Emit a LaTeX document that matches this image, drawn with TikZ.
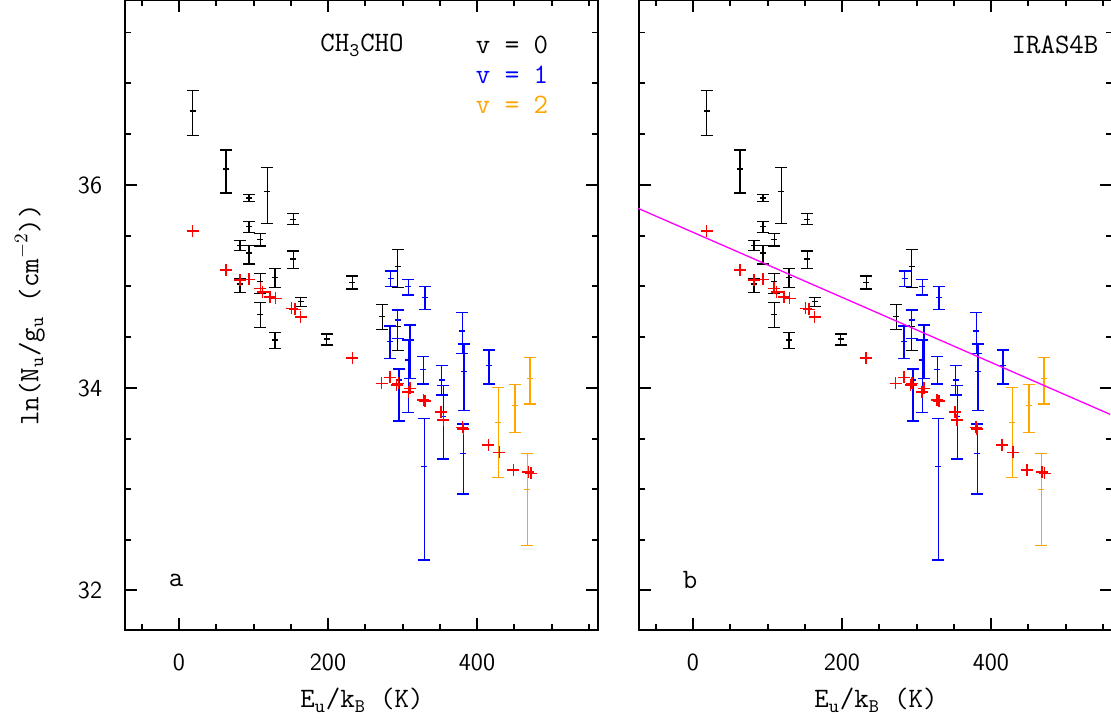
\documentclass[tikz,border=0pt]{standalone}
\usepackage{amsmath}
\usepackage{tikz}

\definecolor{vone}{RGB}{0,0,255}
\definecolor{vtwo}{RGB}{255,165,0}
\definecolor{fitline}{RGB}{255,0,255}

% error bar: x, centre, top, bottom (picture units)
\newcommand{\ebar}[5]{%
  \draw[#1] (#2,#4)--(#2,#5) (#2-6,#4)--(#2+6,#4) (#2-6,#5)--(#2+6,#5) (#2-3,#3)--(#2+3,#3);}
\newcommand{\rplus}[2]{%
  \draw[red,line width=0.9pt] (#1-6,#2)--(#1+6,#2) (#1,#2-6)--(#1,#2+6);}

\newcommand{\panel}{%
\draw[thick] (125,0) rectangle (598,630);
\foreach \t in {142,179,216,254,291,328,365,403,440,477,514,552,589}{
  \draw (\t,630)--(\t,624) (\t,0)--(\t,6);}
\foreach \t in {179,328,477}{
  \draw (\t,630)--(\t,618) (\t,0)--(\t,12);}
\foreach \t in {32.5,83,134,185,236,286,337,388,439,489,540,590}{
  \draw (125,\t)--(131,\t) (598,\t)--(592,\t);}
\foreach \t in {185,388,590}{
  \draw (125,\t)--(137,\t) (598,\t)--(586,\t);}
% v = 0
\foreach \x/\c/\a/\b in {192.7/111/90.7/135.7, 226/169/150/193, 249/198/194.3/201.7,
  267.3/191.7/167.7/223.3, 249/226.7/221.7/232.7, 260.3/239.3/233.3/246,
  240/245.3/240.7/250.7, 249/253/245.7/264, 293.3/219.3/213.3/224.7,
  293.3/259/251/268.3, 275/277.3/268.3/287.3, 260.3/281.7/273.3/293.3,
  240/284/278.3/292.3, 260.3/314.3/302.3/327.3, 300.7/301.7/297.3/306.7,
  275/340/332.3/348.7, 326.7/339/334/345, 352.3/282.3/276/289,
  397.7/266.7/249.3/287.3, 382.3/316.7/304.3/329.3, 397.7/326.7/309.3/350.7}
  {\ebar{black}{\x}{\c}{\a}{\b}}
% v = 1
\foreach \x/\c/\a/\b in {390.7/278.3/271/286.7, 408.3/286.7/279.3/295, 425/297.7/286.7/309.3,
  397.7/320/310/338.3, 390/341.7/326/358.3, 410/340/325/378.3, 408.3/360/340/412.7,
  399/380/369/421, 423.3/369.3/356.7/384, 424.3/466.7/418.7/560, 441.7/380/365.7/395,
  443.3/416.7/385.7/459, 462.3/331/312.7/353.3, 464/371.7/344/410.7,
  463.3/453.3/424/494, 489/365.7/350/384}
  {\ebar{vone}{\x}{\c}{\a}{\b}}
% v = 2
\foreach \x/\c/\a/\b in {498.3/422.7/387.3/477.7, 515/405.3/384.3/432.3,
  530/378.3/357.7/404, 527.3/489.3/453.3/545.7}
  {\ebar{vtwo}{\x}{\c}{\a}{\b}}
% model
\foreach \x/\y in {192.7/231, 226/270, 240/280, 249/279.3, 260.3/288.3, 262.7/291.7,
  270/296.7, 275.7/298.3, 291.7/308.3, 295/309.3, 300.7/316.7, 352.3/357.7,
  381.7/383.3, 390/377.3, 398.3/383.3, 396.7/385, 408.3/391.7, 410/388.3,
  423.3/400, 425/400.7, 441/411.7, 443.3/420, 462.3/427.3, 463.3/429,
  488.3/445, 499.3/452.3, 513.3/470, 528.3/471.7, 530.7/473.3}
  {\rplus{\x}{\y}}
\foreach \t/\l in {179/0,328/200,477/400}{
  \node[ticklab] at (\t,662) {\l};}
}

\begin{document}
\begin{tikzpicture}[x=0.02cm, y=-0.02cm, line width=0.75pt,
  ticklab/.style={font=\sffamily\fontsize{14}{16}\selectfont, inner sep=0pt},
  lab/.style={font=\ttfamily\fontsize{16}{18}\selectfont, inner sep=0pt}]
\useasboundingbox (0,0) rectangle (1111,718);

\panel
\node[ticklab] (y36) at (90,185) {36};
\node[ticklab] (y34) at (90,388) {34};
\node[ticklab] (y32) at (90,590) {32};
\node[lab, rotate=90] (ylab) at (30,315) {ln(N$_\mathtt{u}$/g$_\mathtt{u}$ (cm$^{-2}$))};
\node[lab] (xlabA) at (362,700) {E$_\mathtt{u}$/k$_\mathtt{B}$ (K)};
\node[lab] (mol) at (362,45) {CH$_\mathtt{3}$CHO};
\node[lab] (v0) at (512,45) {v = 0};
\node[lab, text=vone] (v1) at (512,75) {v = 1};
\node[lab, text=vtwo] (v2) at (512,105) {v = 2};
\node[lab] (pa) at (176,580) {a};

\begin{scope}[xshift=10.28cm]
\panel
\end{scope}
\draw[fitline] (638,208.3)--(1110,414.3);
\node[lab] (xlabB) at (876,700) {E$_\mathtt{u}$/k$_\mathtt{B}$ (K)};
\node[lab] (src) at (1055,45) {IRAS4B};
\node[lab] (pb) at (690,580) {b};
\end{tikzpicture}
\end{document}
